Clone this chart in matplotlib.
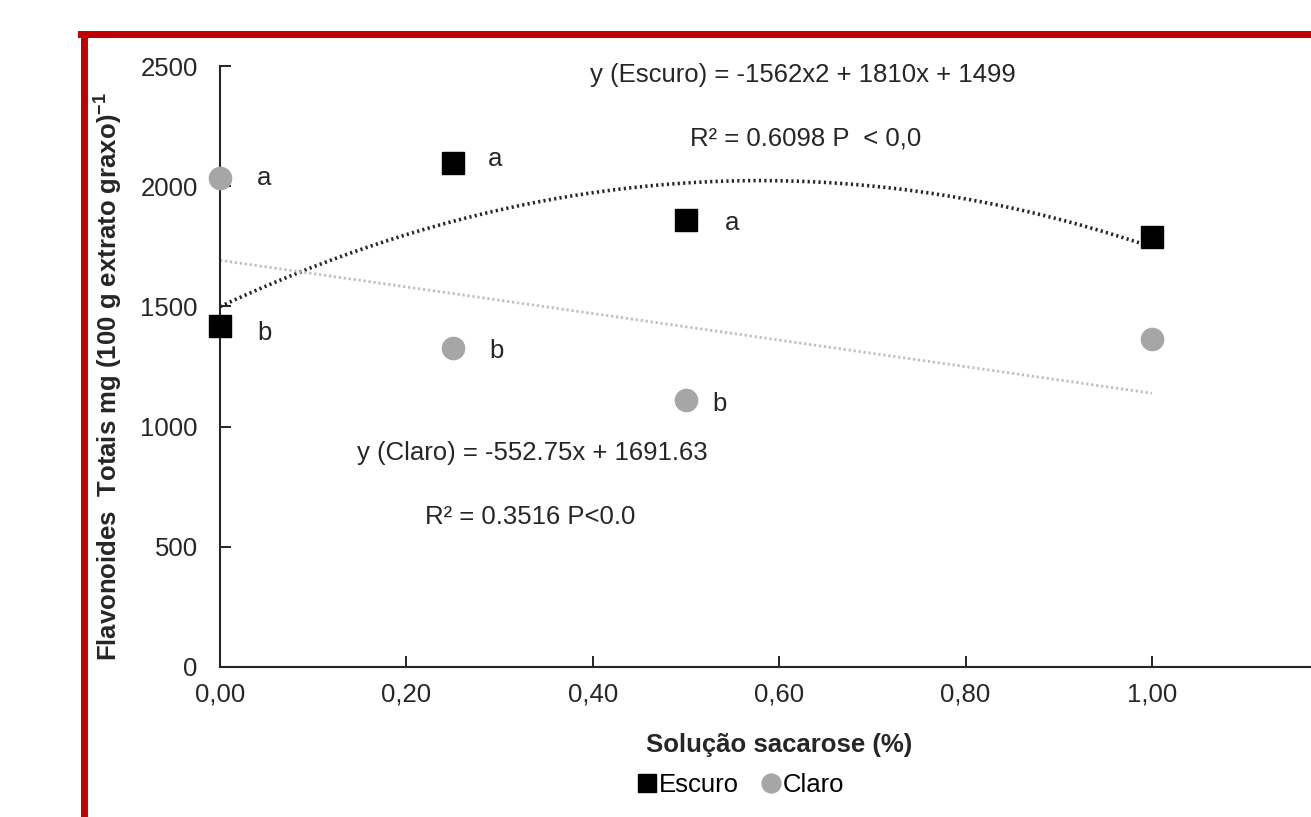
import matplotlib.pyplot as plt
import numpy as np
from matplotlib.lines import Line2D

plt.rcParams["font.family"] = ["Liberation Sans", "DejaVu Sans"]
plt.rcParams["mathtext.fontset"] = "custom"
plt.rcParams["mathtext.rm"] = "Liberation Sans"
plt.rcParams["mathtext.bf"] = "Liberation Sans:bold"

x_conc = [0.0, 0.25, 0.50, 1.00]
escuro = [1420, 2095, 1860, 1790]
claro = [2035, 1325, 1110, 1365]

escuro_letters = ["b", "a", "a", ""]
claro_letters = ["a", "b", "b", ""]

# trendline coefficients shown on the chart
escuro_coef = [-1562, 1810, 1499]
claro_coef = [-552.75, 1691.63]

xticks = [0.0, 0.2, 0.4, 0.6, 0.8, 1.0]
xtick_labels = ["0,00", "0,20", "0,40", "0,60", "0,80", "1,00"]
yticks = [0, 500, 1000, 1500, 2000, 2500]

FS = 18.5
TXT = "#262626"

fig = plt.figure(figsize=(13.11, 8.17), dpi=100)
ax = fig.add_axes([0.1678, 0.1836, 0.853, 0.7356])

xs = np.linspace(0, 1, 200)
ax.plot(xs, np.polyval(escuro_coef, xs), color="#262626", lw=2.6,
        linestyle=(0, (0.6, 0.9)), zorder=2)
ax.plot(xs, np.polyval(claro_coef, xs), color="#BFBFBF", lw=2.0,
        linestyle=(0, (0.8, 1.0)), zorder=2)

ax.plot(x_conc, escuro, "s", color="black", markersize=16, label="Escuro",
        zorder=3, clip_on=False)
ax.plot(x_conc, claro, "o", color="#A6A6A6", markersize=16, label="Claro",
        zorder=3, clip_on=False)

# letter offsets in points
escuro_off = [(32, -5), (30, 3), (33.5, -2.5), (0, 0)]
claro_off = [(32, -0.5), (31.5, -1.5), (24, -3), (0, 0)]
for xv, yv, t, o in zip(x_conc, escuro, escuro_letters, escuro_off):
    ax.annotate(t, (xv, yv), xytext=o, textcoords="offset points",
                fontsize=FS, va="center", ha="center", color=TXT)
for xv, yv, t, o in zip(x_conc, claro, claro_letters, claro_off):
    ax.annotate(t, (xv, yv), xytext=o, textcoords="offset points",
                fontsize=FS, va="center", ha="center", color=TXT)

ax.text(0.626, 2463, "y (Escuro) = -1562x2 + 1810x + 1499", fontsize=FS,
        ha="center", va="center", color=TXT)
ax.text(0.628, 2199, "R² = 0.6098 P  < 0,0", fontsize=FS,
        ha="center", va="center", color=TXT)
ax.text(0.335, 891, "y (Claro) = -552.75x + 1691.63", fontsize=FS,
        ha="center", va="center", color=TXT)
ax.text(0.333, 624, "R² = 0.3516 P<0.0", fontsize=FS,
        ha="center", va="center", color=TXT)

ax.set_xlim(0, 1.2)
ax.set_ylim(0, 2500)
ax.set_xticks(xticks)
ax.set_xticklabels(xtick_labels)
ax.set_yticks(yticks)
ax.tick_params(direction="in", length=8, width=1.2, labelsize=FS,
               colors="black", labelcolor=TXT)
ax.tick_params(axis="x", pad=11)
ax.tick_params(axis="y", pad=16)
for s in ["top", "right"]:
    ax.spines[s].set_visible(False)
for s in ["left", "bottom"]:
    ax.spines[s].set_linewidth(1.5)
    ax.spines[s].set_color("#262626")

ax.set_xlabel("Solução sacarose (%)", fontsize=FS, fontweight="bold",
              color=TXT, labelpad=19)
ax.set_ylabel(r"Flavonoides  Totais mg (100 g extrato graxo)$^{\mathbf{-1}}$",
              fontsize=FS, fontweight="bold", color=TXT)
ax.yaxis.set_label_coords(-0.086, 0.483)

fig.legend(loc="center", bbox_to_anchor=(740 / 1311, 1 - 785 / 817), ncol=2,
           frameon=False, fontsize=FS, handletextpad=0.0, columnspacing=0.8,
           markerscale=0.85, handlelength=0.9)

# red frame
fig.add_artist(Line2D([84 / 1311, 84 / 1311], [0, 1 - 33.5 / 817],
                      color="#C00000", lw=5, transform=fig.transFigure))
fig.add_artist(Line2D([81 / 1311, 1], [1 - 33.5 / 817, 1 - 33.5 / 817],
                      color="#C00000", lw=5, transform=fig.transFigure))

plt.savefig("out.png", dpi=100)
